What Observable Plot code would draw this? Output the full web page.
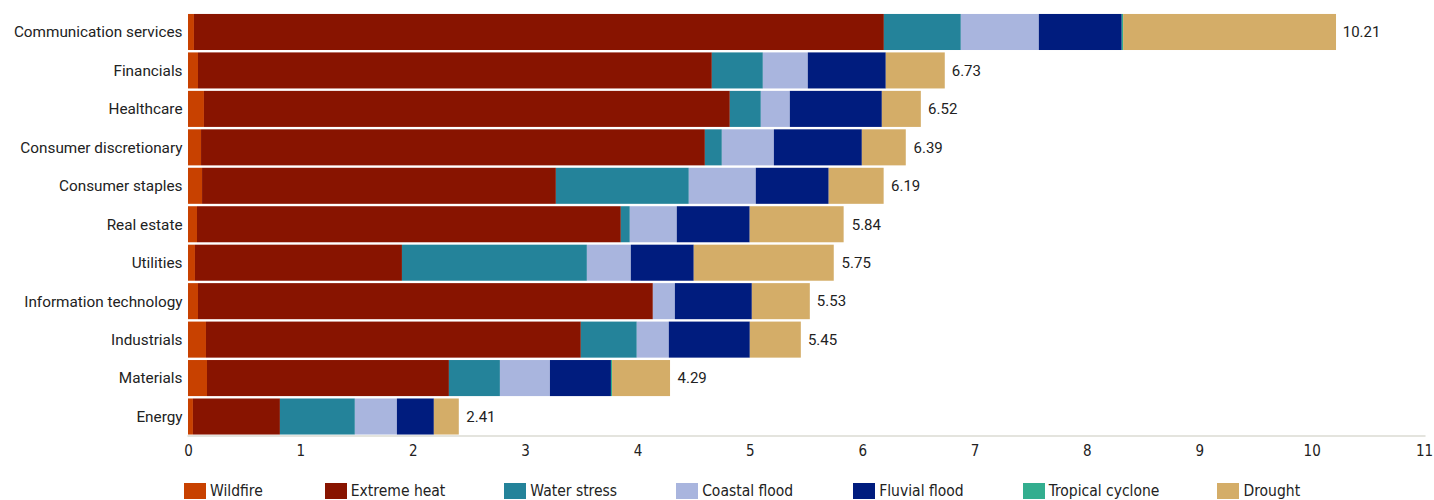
<!DOCTYPE html>
<html>
<head>
<meta charset="utf-8">
<script src="https://cdn.jsdelivr.net/npm/d3@7"></script>
<script src="https://cdn.jsdelivr.net/npm/@observablehq/plot@0.6"></script>
<style>
  body { margin: 0; background: #fff; font-family: Roboto, "Noto Sans", sans-serif; }
  #legend { display: flex; padding-left: 184px; margin-top: 17px; font-family: "DejaVu Sans Condensed", "Liberation Sans Narrow", Roboto, sans-serif; font-size: 15.5px; line-height: 16px; color: #222; }
  .item { display: flex; align-items: flex-start; }
  .sw { width: 22px; height: 16px; margin-right: 4px; flex: none; }
</style>
</head>
<body>
<div id="chart"></div>
<div id="legend"></div>
<script>
const categories = ["Communication services","Financials","Healthcare","Consumer discretionary","Consumer staples","Real estate","Utilities","Information technology","Industrials","Materials","Energy"];
const hazards = ["Wildfire","Extreme heat","Water stress","Coastal flood","Fluvial flood","Tropical cyclone","Drought"];
const hazardColors = ["#c84100","#881400","#24839a","#a9b5de","#001c7e","#33ae8f","#d4ad68"];

const wildfire        = [0.053, 0.089, 0.142, 0.116, 0.125, 0.080, 0.062, 0.089, 0.160, 0.169, 0.044];
const extremeHeat     = [6.140, 4.573, 4.680, 4.484, 3.149, 3.772, 1.842, 4.048, 3.336, 2.153, 0.774];
const waterStress     = [0.685, 0.454, 0.276, 0.151, 1.183, 0.080, 1.646, 0.000, 0.498, 0.454, 0.667];
const coastalFlood    = [0.694, 0.400, 0.258, 0.463, 0.596, 0.418, 0.391, 0.196, 0.285, 0.445, 0.374];
const fluvialFlood    = [0.738, 0.694, 0.819, 0.783, 0.649, 0.649, 0.560, 0.685, 0.721, 0.543, 0.329];
const tropicalCyclone = [0.012, 0.000, 0.000, 0.000, 0.000, 0.000, 0.000, 0.000, 0.000, 0.010, 0.000];
const drought         = [1.895, 0.525, 0.347, 0.391, 0.489, 0.836, 1.246, 0.516, 0.454, 0.516, 0.222];
const totals          = [10.21, 6.73, 6.52, 6.39, 6.19, 5.84, 5.75, 5.53, 5.45, 4.29, 2.41];
const xTicks = [0,1,2,3,4,5,6,7,8,9,10,11];

const series = [wildfire, extremeHeat, waterStress, coastalFlood, fluvialFlood, tropicalCyclone, drought];
const data = [];
categories.forEach((c, i) => hazards.forEach((h, j) => data.push({category: c, hazard: h, value: series[j][i]})));
const totalData = categories.map((c, i) => ({category: c, total: totals[i]}));

const chart = Plot.plot({
  width: 1434,
  height: 466,
  marginLeft: 188,
  marginRight: 10,
  marginTop: 13,
  marginBottom: 30.5,
  style: {fontFamily: "Roboto, sans-serif", fontSize: "15.3px", color: "#222"},
  x: {domain: [0, 11], ticks: xTicks, label: null},
  y: {domain: categories, label: null, paddingInner: 0.0625, paddingOuter: 0.025, round: false},
  color: {domain: hazards, range: hazardColors},
  marks: [
    Plot.barX(data, {x: "value", y: "category", fill: "hazard", order: hazards}),
    Plot.frame({anchor: "bottom", stroke: "#e4e4de", strokeWidth: 2}),
    Plot.axisX({ticks: xTicks, tickSize: 0, tickPadding: 9, fontFamily: "DejaVu Sans Condensed, sans-serif", fontSize: 15, label: null}),
    Plot.axisY({tickSize: 0, tickPadding: 6, fontSize: 15.3, label: null}),
    Plot.text(totalData, {x: "total", y: "category", text: d => d.total.toFixed(2), dx: 7, textAnchor: "start", fontSize: 15, fill: "#222"})
  ]
});
document.getElementById("chart").appendChild(chart);

const legend = document.getElementById("legend");
const gaps = [62, 59, 59, 60, 59, 58, 0];
hazards.forEach((h, i) => {
  const it = document.createElement("div");
  it.className = "item";
  it.style.marginRight = gaps[i] + "px";
  it.innerHTML = `<span class="sw" style="background:${hazardColors[i]}"></span><span>${h}</span>`;
  legend.appendChild(it);
});
</script>
</body>
</html>
